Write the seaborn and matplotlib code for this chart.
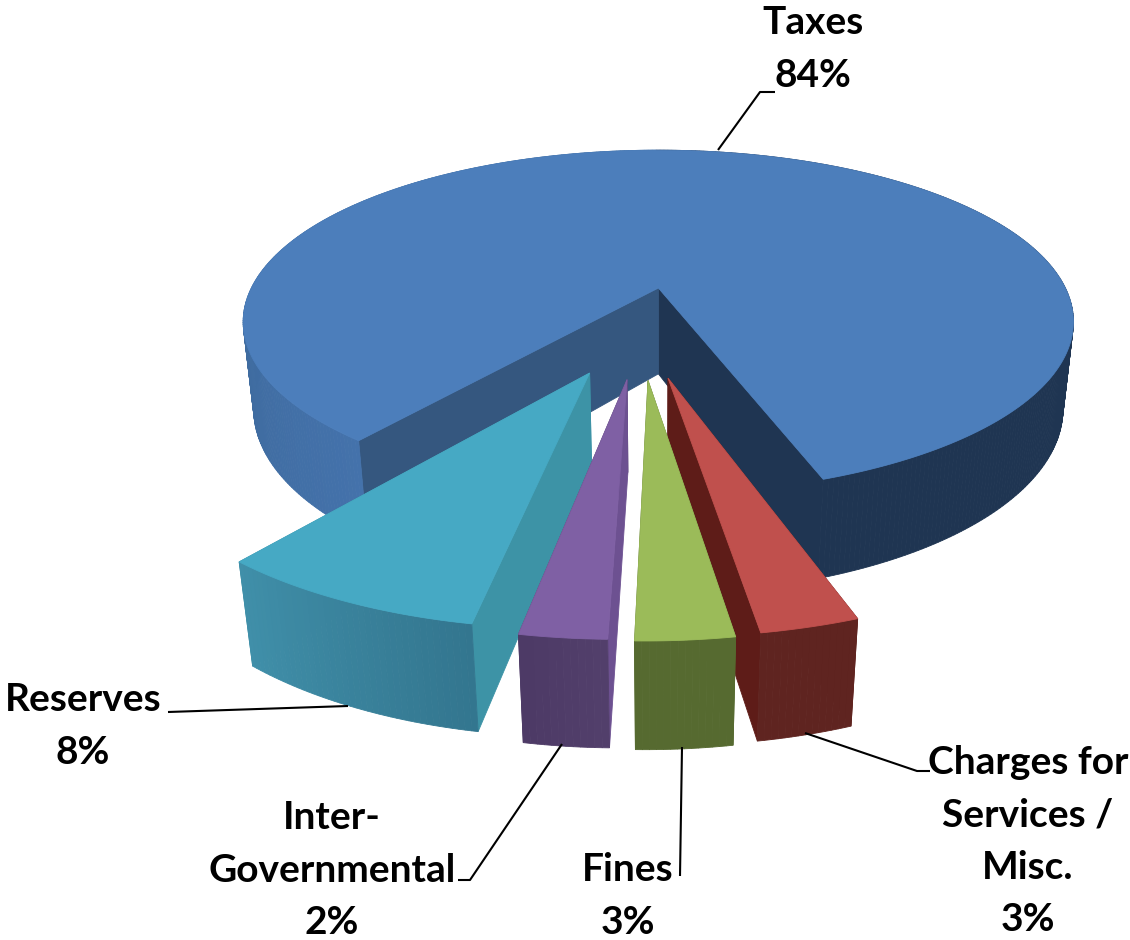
import numpy as np
import matplotlib
matplotlib.use("Agg")
import matplotlib.pyplot as plt
import seaborn as sns

# Revenue shares, percent
categories = ["Taxes", "Reserves", "Inter-\nGovernmental", "Fines", "Charges for\nServices /\nMisc."]
shares = [83.95, 7.92, 2.49, 2.80, 2.84]

# Slice styling: top face, side walls and rim shading along the sweep
top_colors = ["#4c7ebb", "#46a9c4", "#7f60a4", "#9bbb59", "#c0504d"]
start_wall_colors = ["#1f3552", "#3d93a6", "#523f6b", "#566a30", "#5e1c18"]
end_wall_colors = ["#35577f", "#3d93a6", "#6d5191", "#566a30", "#5e1c18"]
rim_ramps = [["#1f3552", "#1f3552", "#3c6899", "#4472ab"],
             ["#408fa9", "#33768f"],
             ["#4d3a66", "#523f6b"],
             ["#566a30", "#566a30"],
             ["#5f2420", "#5f2420"]]
# Radial pull of each slice on the pie plane
explode_x = [-0.004, -0.157, -0.073, -0.0265, 0.0177]
explode_y = [0.0, -0.468, -0.50, -0.505, -0.493]
draw_order = [0, 1, 2, 4, 3]

first_angle = -70.7

# Camera model for the tilted disc
CX, CY, AX, BY, DEPTH = 660.0, 288.0, 407.0, 165.0, 88.0
PERSP, DEPTH_PERSP = 0.197, 0.025


def project(x, y, h=0.0):
    w = 1 + PERSP * y + DEPTH_PERSP * h
    return CX + AX * x / w, CY + (-BY * y + DEPTH * h) / w


sns.set_theme(style="white")
plt.rcParams["font.family"] = ["Lato", "DejaVu Sans"]

fig = plt.figure(figsize=(11.3, 9.4), dpi=100, facecolor="white")
ax = fig.add_axes([0, 0, 1, 1])
ax.set_xlim(0, 1130)
ax.set_ylim(940, 0)
ax.axis("off")

sweeps = np.array(shares) / sum(shares) * 360
edges = first_angle + np.concatenate([[0], np.cumsum(sweeps)])


def fill(points, color, z):
    xs, ys = zip(*points)
    ax.fill(xs, ys, facecolor=color, edgecolor=color, linewidth=0.6, zorder=z)


for rank, i in enumerate(draw_order):
    ox, oy = explode_x[i], explode_y[i]
    z = 2 + rank
    angles = np.radians(np.linspace(edges[i], edges[i + 1], max(12, int(sweeps[i] * 1.5))))
    rim_x = ox + np.cos(angles)
    rim_y = oy + np.sin(angles)

    # rim shading runs with the sweep; the largest slice is dark until its far left side
    if i == 0:
        rim_colors = []
        lit = sns.blend_palette(rim_ramps[0][2:], len(angles))
        for theta in np.degrees(angles[:-1]):
            frac = np.clip((theta - 175) / (edges[1] - 175), 0, 1)
            rim_colors.append(lit[int(frac * (len(lit) - 1))] if theta > 90 else rim_ramps[0][0])
    else:
        rim_colors = sns.blend_palette(rim_ramps[i], len(angles) - 1)

    # inner walls
    for edge_index, color in ((0, start_wall_colors[i]), (-1, end_wall_colors[i])):
        ex, ey = rim_x[edge_index], rim_y[edge_index]
        fill([project(ox, oy), project(ex, ey), project(ex, ey, 1), project(ox, oy, 1)], color, z)

    # outer rim
    for k in range(len(angles) - 1):
        fill([project(rim_x[k], rim_y[k]), project(rim_x[k + 1], rim_y[k + 1]),
              project(rim_x[k + 1], rim_y[k + 1], 1), project(rim_x[k], rim_y[k], 1)],
             rim_colors[k], z)

    # top face
    outline = [project(ox, oy)] + [project(a, b) for a, b in zip(rim_x, rim_y)]
    fill(outline, top_colors[i], z)

# Callouts: label anchor and leader line for each slice
label_xy = [(813, 49), (83, 726), (332, 870), (628, 896), (1028, 841)]
leaders = [[(718, 150), (760, 92), (775, 92)],
           [(168, 712), (348, 706)],
           [(562, 744), (470, 880), (458, 880)],
           [(682, 747), (680, 876)],
           [(805, 733), (917, 771), (930, 771)]]

for name, value, (tx, ty), leader in zip(categories, shares, label_xy, leaders):
    ax.text(tx, ty, f"{name}\n{value:.0f}%", ha="center", va="center", fontsize=28,
            fontweight="bold", color="black", linespacing=1.6, zorder=20)
    lx, ly = zip(*leader)
    ax.plot(lx, ly, color="black", lw=1.5, zorder=19, solid_capstyle="butt")

fig.savefig("out.png", dpi=100)
